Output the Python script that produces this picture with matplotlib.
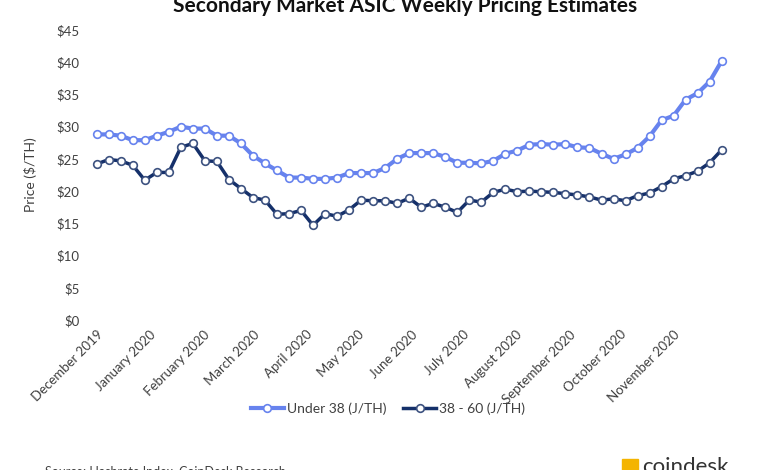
import matplotlib
matplotlib.use("Agg")
import matplotlib.pyplot as plt
import matplotlib.dates as mdates
import matplotlib.patches as mpatches
import pandas as pd

plt.rcParams['font.family'] = ['Lato', 'DejaVu Sans']

# weekly estimates, Dec 2019 - Nov 2020
weeks = pd.date_range('2019-12-01', periods=53, freq='7D')
months = pd.date_range('2019-12-01', '2020-11-01', freq='MS')

under_38 = [28.8, 28.8, 28.6, 27.9, 27.9, 28.6, 29.2, 30.0, 29.7, 29.7,
            28.6, 28.6, 27.4, 25.5, 24.3, 23.2, 22.1, 22.1, 21.9, 21.9,
            22.1, 22.8, 22.8, 22.8, 23.6, 25.0, 25.9, 25.9, 25.9, 25.3,
            24.4, 24.4, 24.3, 24.7, 25.8, 26.3, 27.2, 27.3, 27.2, 27.3,
            26.8, 26.7, 25.8, 25.0, 25.7, 26.7, 28.5, 31.0, 31.7, 34.2,
            35.2, 37.0, 40.2]

mid_38_60 = [24.2, 24.9, 24.7, 24.0, 21.7, 22.9, 22.9, 26.8, 27.4, 24.7,
             24.6, 21.8, 20.4, 19.0, 18.6, 16.4, 16.5, 17.0, 14.7, 16.5,
             16.1, 17.1, 18.6, 18.5, 18.5, 18.1, 18.9, 17.5, 18.1, 17.5,
             16.7, 18.6, 18.3, 19.8, 20.3, 19.9, 20.0, 19.9, 19.8, 19.6,
             19.4, 19.1, 18.6, 18.8, 18.5, 19.3, 19.7, 20.7, 21.9, 22.4,
             23.1, 24.4, 26.4]

yticks = [0, 5, 10, 15, 20, 25, 30, 35, 40, 45]

W, H = 780, 470
fig = plt.figure(figsize=(7.8, 4.7), dpi=100)
ax = fig.add_axes([90.7 / W, 1 - 320 / H, (727.7 - 90.7) / W, 290 / H])

ax.plot(weeks, under_38, color='#6783ee', lw=3, marker='o', ms=5.5,
        mfc='white', mec='#6783ee', mew=1.2, label='Under 38 (J/TH)')
ax.plot(weeks, mid_38_60, color='#15306a', lw=2.5, marker='o', ms=5.5,
        mfc='white', mec='#3d5280', mew=1.2, label='38 - 60 (J/TH)')

ax.set_xlim(weeks[0] - pd.Timedelta(days=3.5), weeks[-1] + pd.Timedelta(days=3.5))
ax.set_ylim(0, 45)
ax.set_yticks(yticks)
ax.set_yticklabels(['$%d' % v for v in yticks])

ax.set_xticks(months)
ax.xaxis.set_major_formatter(mdates.DateFormatter('%B %Y'))
for lbl in ax.get_xticklabels():
    lbl.set_rotation(45)
    lbl.set_ha('right')
    lbl.set_rotation_mode('anchor')

ax.tick_params(axis='both', length=0, labelsize=9.5, labelcolor='#404040')
ax.tick_params(axis='y', pad=8)
ax.tick_params(axis='x', pad=6)
for s in ax.spines.values():
    s.set_visible(False)

ax.set_ylabel('Price ($/TH)', fontsize=10, color='#404040', labelpad=14)

fig.text(405 / W, 1 - 6 / H, 'Secondary Market ASIC Weekly Pricing Estimates',
         ha='center', va='center', fontsize=15, fontweight='bold', color='#111111')

fig.legend(loc='center', bbox_to_anchor=(388 / W, 1 - 409 / H), ncol=2,
           frameon=False, fontsize=10, handlelength=2.4, columnspacing=1.2,
           handletextpad=0.2, labelcolor='#404040')

# footer, cut off at the bottom edge
fig.text(45 / W, 1 - 465.5 / H, 'Source: Hashrate Index, CoinDesk Research',
         ha='left', va='top', fontsize=9, color='#404040')
fig.patches.append(mpatches.Rectangle((622 / W, 0), 16 / W, 11 / H,
                                      transform=fig.transFigure, color='#f4b400'))
fig.text(642 / W, 1 - 457 / H, 'coindesk', ha='left', va='top',
         fontsize=16, color='#333333')

fig.savefig('out.png', dpi=100)
